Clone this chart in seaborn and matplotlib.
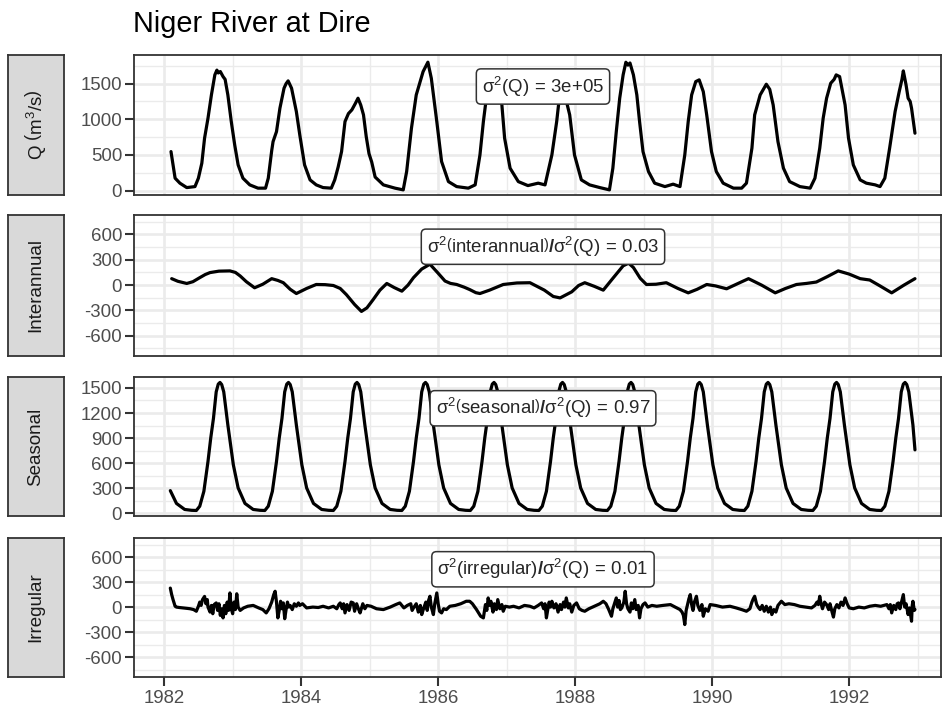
import numpy as np
import pandas as pd
import matplotlib
matplotlib.use("Agg")
import matplotlib.pyplot as plt
import matplotlib.transforms as mtransforms
import seaborn as sns

# ---------------- data ----------------
q_time = [1982.10, 1982.16, 1982.23, 1982.33, 1982.45, 1982.50, 1982.55, 1982.59, 1982.64, 1982.69,
          1982.74, 1982.77, 1982.79, 1982.82, 1982.86, 1982.89, 1982.93, 1982.98, 1983.03, 1983.08,
          1983.15, 1983.25, 1983.37, 1983.48, 1983.52, 1983.57, 1983.59, 1983.64, 1983.69, 1983.75,
          1983.78, 1983.81, 1983.86, 1983.93, 1983.98, 1984.05, 1984.13, 1984.22, 1984.32, 1984.44,
          1984.49, 1984.54, 1984.59, 1984.64, 1984.69, 1984.74, 1984.79, 1984.83, 1984.87, 1984.91,
          1984.95, 1984.99, 1985.03, 1985.08, 1985.20, 1985.37, 1985.49, 1985.54, 1985.61, 1985.68,
          1985.78, 1985.85, 1985.90, 1985.98, 1986.05, 1986.15, 1986.27, 1986.44, 1986.54, 1986.61,
          1986.66, 1986.71, 1986.77, 1986.82, 1986.88, 1986.93, 1986.97, 1987.05, 1987.17, 1987.31,
          1987.46, 1987.56, 1987.66, 1987.73, 1987.78, 1987.82, 1987.86, 1987.92, 1987.99, 1988.09,
          1988.21, 1988.36, 1988.50, 1988.55, 1988.60, 1988.65, 1988.70, 1988.74, 1988.77, 1988.80,
          1988.85, 1988.90, 1988.94, 1988.99, 1989.07, 1989.16, 1989.31, 1989.43, 1989.53, 1989.60,
          1989.65, 1989.70, 1989.76, 1989.81, 1989.87, 1989.92, 1989.99, 1990.06, 1990.16, 1990.31,
          1990.43, 1990.50, 1990.58, 1990.62, 1990.70, 1990.79, 1990.84, 1990.89, 1990.96, 1991.04,
          1991.13, 1991.28, 1991.43, 1991.50, 1991.57, 1991.62, 1991.67, 1991.73, 1991.78, 1991.81,
          1991.86, 1991.90, 1991.94, 1991.99, 1992.06, 1992.16, 1992.25, 1992.38, 1992.45, 1992.52,
          1992.59, 1992.67, 1992.73, 1992.77, 1992.79, 1992.81, 1992.83, 1992.86, 1992.89, 1992.91,
          1992.96]
q_value = [547, 174, 104, 42, 56, 174, 384, 735, 1015, 1342,
           1623, 1690, 1650, 1670, 1599, 1560, 1342, 968, 641, 360,
           174, 80, 34, 34, 174, 560, 687, 827, 1156, 1436,
           1500, 1539, 1436, 1108, 781, 360, 150, 80, 42, 34,
           150, 330, 547, 968, 1080, 1132, 1220, 1296, 1200, 1062,
           757, 520, 400, 190, 80, 34, 10, 267, 875, 1342,
           1669, 1801, 1576, 968, 407, 126, 56, 34, 80, 501,
           968, 1350, 1560, 1520, 1400, 1202, 735, 314, 126, 70,
           104, 80, 501, 968, 1400, 1480, 1300, 1062, 501, 150,
           80, 42, 10, 314, 827, 1296, 1623, 1800, 1760, 1790,
           1623, 1342, 968, 547, 267, 104, 56, 90, 56, 501,
           968, 1342, 1529, 1553, 1388, 1062, 547, 267, 104, 34,
           34, 104, 595, 1062, 1342, 1492, 1420, 1202, 687, 314,
           126, 56, 34, 174, 595, 1015, 1296, 1506, 1560, 1623,
           1599, 1400, 1202, 735, 360, 150, 104, 80, 56, 174,
           595, 1108, 1388, 1560, 1679, 1580, 1482, 1296, 1250, 1156,
           805]

inter_time = [1982.11, 1982.20, 1982.33, 1982.42, 1982.52, 1982.60, 1982.67, 1982.80, 1982.96, 1983.04,
              1983.11, 1983.20, 1983.32, 1983.44, 1983.57, 1983.66, 1983.74, 1983.84, 1983.93, 1984.08,
              1984.22, 1984.35, 1984.47, 1984.57, 1984.66, 1984.78, 1984.88, 1984.96, 1985.05, 1985.15,
              1985.25, 1985.36, 1985.47, 1985.56, 1985.64, 1985.76, 1985.88, 1986.00, 1986.10, 1986.18,
              1986.27, 1986.38, 1986.46, 1986.55, 1986.61, 1986.75, 1986.95, 1987.15, 1987.34, 1987.55,
              1987.68, 1987.78, 1987.95, 1988.05, 1988.14, 1988.28, 1988.41, 1988.55, 1988.70, 1988.78,
              1988.85, 1988.95, 1989.04, 1989.18, 1989.33, 1989.50, 1989.65, 1989.78, 1989.92, 1990.05,
              1990.21, 1990.38, 1990.53, 1990.72, 1990.92, 1991.07, 1991.23, 1991.38, 1991.52, 1991.68,
              1991.84, 1992.00, 1992.16, 1992.30, 1992.45, 1992.62, 1992.80, 1992.96]
inter_value = [76, 45, 19, 40, 88, 125, 148, 165, 168, 150,
               108, 40, -32, 10, 76, 55, 28, -50, -100, -40,
               7, 5, -5, -40, -113, -230, -312, -270, -173, -60,
               19, -30, -72, 0, 88, 190, 247, 140, 48, 20,
               7, -25, -53, -90, -100, -60, 7, 25, 28, -60,
               -135, -152, -80, -5, 28, -15, -60, 80, 228, 260,
               208, 80, 7, 10, 28, -40, -92, -50, 7, -10,
               -44, 20, 76, 0, -92, -40, 7, 20, 36, 100,
               168, 130, 76, 60, -10, -92, 0, 76]

seas_time = [1982.09, 1982.18, 1982.30, 1982.40, 1982.47, 1982.52, 1982.58, 1982.64, 1982.68, 1982.72, 1982.76, 1982.79, 1982.815, 1982.84, 1982.87, 1982.93,
             1983.01, 1983.08, 1983.18, 1983.30, 1983.40, 1983.47, 1983.52, 1983.58, 1983.64, 1983.68, 1983.72, 1983.76, 1983.79, 1983.815, 1983.84, 1983.87, 1983.93,
             1984.01, 1984.08, 1984.18, 1984.30, 1984.40, 1984.47, 1984.52, 1984.58, 1984.64, 1984.68, 1984.72, 1984.76, 1984.79, 1984.815, 1984.84, 1984.87, 1984.93,
             1985.01, 1985.08, 1985.18, 1985.30, 1985.40, 1985.47, 1985.52, 1985.58, 1985.64, 1985.68, 1985.72, 1985.76, 1985.79, 1985.815, 1985.84, 1985.87, 1985.93,
             1986.01, 1986.08, 1986.18, 1986.30, 1986.40, 1986.47, 1986.52, 1986.58, 1986.64, 1986.68, 1986.72, 1986.76, 1986.79, 1986.815, 1986.84, 1986.87, 1986.93,
             1987.01, 1987.08, 1987.18, 1987.30, 1987.40, 1987.47, 1987.52, 1987.58, 1987.64, 1987.68, 1987.72, 1987.76, 1987.79, 1987.815, 1987.84, 1987.87, 1987.93,
             1988.01, 1988.08, 1988.18, 1988.30, 1988.40, 1988.47, 1988.52, 1988.58, 1988.64, 1988.68, 1988.72, 1988.76, 1988.79, 1988.815, 1988.84, 1988.87, 1988.93,
             1989.01, 1989.08, 1989.18, 1989.30, 1989.40, 1989.47, 1989.52, 1989.58, 1989.64, 1989.68, 1989.72, 1989.76, 1989.79, 1989.815, 1989.84, 1989.87, 1989.93,
             1990.01, 1990.08, 1990.18, 1990.30, 1990.40, 1990.47, 1990.52, 1990.58, 1990.64, 1990.68, 1990.72, 1990.76, 1990.79, 1990.815, 1990.84, 1990.87, 1990.93,
             1991.01, 1991.08, 1991.18, 1991.30, 1991.40, 1991.47, 1991.52, 1991.58, 1991.64, 1991.68, 1991.72, 1991.76, 1991.79, 1991.815, 1991.84, 1991.87, 1991.93,
             1992.01, 1992.08, 1992.18, 1992.30, 1992.40, 1992.47, 1992.52, 1992.58, 1992.64, 1992.68, 1992.72, 1992.76, 1992.79, 1992.815, 1992.84, 1992.87, 1992.93, 1992.96]
seas_value = [273, 120, 48, 38, 36, 87, 265, 621, 900, 1137, 1453, 1545, 1565, 1540, 1453, 1057,
              582, 305, 120, 48, 38, 36, 87, 265, 621, 900, 1137, 1453, 1545, 1565, 1540, 1453, 1057,
              582, 305, 120, 48, 38, 36, 87, 265, 621, 900, 1137, 1453, 1545, 1565, 1540, 1453, 1057,
              582, 305, 120, 48, 38, 36, 87, 265, 621, 900, 1137, 1453, 1545, 1565, 1540, 1453, 1057,
              582, 305, 120, 48, 38, 36, 87, 265, 621, 900, 1137, 1453, 1545, 1565, 1540, 1453, 1057,
              582, 305, 120, 48, 38, 36, 87, 265, 621, 900, 1137, 1453, 1545, 1565, 1540, 1453, 1057,
              582, 305, 120, 48, 38, 36, 87, 265, 621, 900, 1137, 1453, 1545, 1565, 1540, 1453, 1057,
              582, 305, 120, 48, 38, 36, 87, 265, 621, 900, 1137, 1453, 1545, 1565, 1540, 1453, 1057,
              582, 305, 120, 48, 38, 36, 87, 265, 621, 900, 1137, 1453, 1545, 1565, 1540, 1453, 1057,
              582, 305, 120, 48, 38, 36, 87, 265, 621, 900, 1137, 1453, 1545, 1565, 1540, 1453, 1057,
              582, 305, 120, 48, 38, 36, 87, 265, 621, 900, 1137, 1453, 1545, 1565, 1540, 1453, 1057, 760]

irr_time = [1982.09, 1982.11, 1982.13, 1982.16, 1982.18, 1982.22, 1982.28, 1982.33, 1982.38, 1982.43,
            1982.47, 1982.50, 1982.52, 1982.54, 1982.56, 1982.59, 1982.61, 1982.63, 1982.64, 1982.67,
            1982.69, 1982.71, 1982.73, 1982.76, 1982.78, 1982.80, 1982.82, 1982.84, 1982.86, 1982.88,
            1982.90, 1982.92, 1982.94, 1982.96, 1982.98, 1983.00, 1983.02, 1983.04, 1983.06, 1983.08,
            1983.11, 1983.16, 1983.22, 1983.30, 1983.38, 1983.44, 1983.49, 1983.53, 1983.57, 1983.60,
            1983.62, 1983.64, 1983.66, 1983.68, 1983.70, 1983.72, 1983.74, 1983.76, 1983.78, 1983.80,
            1983.82, 1983.84, 1983.87, 1983.90, 1983.93, 1983.96, 1983.98, 1984.02, 1984.08, 1984.17,
            1984.25, 1984.32, 1984.40, 1984.47, 1984.52, 1984.55, 1984.57, 1984.60, 1984.62, 1984.64,
            1984.67, 1984.70, 1984.73, 1984.76, 1984.78, 1984.81, 1984.84, 1984.86, 1984.90, 1984.93,
            1984.96, 1985.02, 1985.10, 1985.20, 1985.30, 1985.38, 1985.44, 1985.50, 1985.55, 1985.60,
            1985.62, 1985.64, 1985.68, 1985.71, 1985.74, 1985.76, 1985.79, 1985.82, 1985.84, 1985.86,
            1985.88, 1985.90, 1985.93, 1985.95, 1985.98, 1986.00, 1986.02, 1986.05, 1986.08, 1986.12,
            1986.17, 1986.25, 1986.33, 1986.41, 1986.46, 1986.50, 1986.56, 1986.62, 1986.66, 1986.69,
            1986.71, 1986.73, 1986.75, 1986.77, 1986.80, 1986.82, 1986.85, 1986.87, 1986.90, 1986.93,
            1986.95, 1986.98, 1987.04, 1987.10, 1987.18, 1987.26, 1987.34, 1987.40, 1987.46, 1987.51,
            1987.54, 1987.56, 1987.58, 1987.60, 1987.62, 1987.64, 1987.66, 1987.69, 1987.72, 1987.75,
            1987.78, 1987.80, 1987.83, 1987.85, 1987.87, 1987.90, 1987.92, 1987.95, 1987.98, 1988.02,
            1988.06, 1988.10, 1988.14, 1988.20, 1988.28, 1988.36, 1988.41, 1988.45, 1988.49, 1988.53,
            1988.55, 1988.58, 1988.60, 1988.62, 1988.64, 1988.66, 1988.68, 1988.71, 1988.73, 1988.75,
            1988.77, 1988.80, 1988.82, 1988.84, 1988.87, 1988.89, 1988.92, 1988.94, 1988.96, 1988.99,
            1989.02, 1989.06, 1989.12, 1989.19, 1989.28, 1989.39, 1989.46, 1989.53, 1989.56, 1989.58,
            1989.60, 1989.62, 1989.64, 1989.66, 1989.68, 1989.70, 1989.72, 1989.74, 1989.77, 1989.79,
            1989.82, 1989.85, 1989.87, 1989.90, 1989.94, 1989.97, 1990.05, 1990.15, 1990.26, 1990.35,
            1990.43, 1990.50, 1990.55, 1990.58, 1990.60, 1990.62, 1990.65, 1990.68, 1990.70, 1990.73,
            1990.76, 1990.79, 1990.82, 1990.85, 1990.87, 1990.90, 1990.93, 1990.96, 1991.01, 1991.06,
            1991.12, 1991.20, 1991.28, 1991.36, 1991.45, 1991.50, 1991.53, 1991.55, 1991.57, 1991.59,
            1991.61, 1991.64, 1991.67, 1991.70, 1991.72, 1991.75, 1991.77, 1991.79, 1991.82, 1991.85,
            1991.88, 1991.91, 1991.94, 1991.97, 1992.00, 1992.06, 1992.14, 1992.22, 1992.30, 1992.38,
            1992.46, 1992.55, 1992.58, 1992.60, 1992.62, 1992.65, 1992.68, 1992.70, 1992.72, 1992.74,
            1992.77, 1992.79, 1992.81, 1992.83, 1992.86, 1992.88, 1992.91, 1992.92, 1992.93, 1992.95,
            1992.96]
irr_value = [228, 150, 90, 10, 0, -5, -10, -15, -20, -30,
             -50, 10, 60, 20, 90, 128, 40, 90, 0, -60,
             20, -80, 30, 50, -40, 40, -100, -20, -130, 20,
             -80, 60, -40, 170, -20, -80, 60, -30, 160, 0,
             -40, -10, 10, 20, -10, -30, -70, -20, 60, 150,
             190, 60, -130, -40, 70, -20, 50, -140, -30, 60,
             0, 20, -30, 40, 10, 50, 20, 40, -10, 0,
             -5, 10, -10, 10, -20, 30, 50, -20, 40, -70,
             30, -40, 60, 50, -50, 40, -30, -70, 40, -20,
             20, 10, -20, -30, 0, 30, 50, -10, 20, 40,
             -40, -10, 40, -60, 20, -90, -10, 60, -40, 80,
             130, 0, -90, 40, 170, 40, -50, -70, -20, -30,
             10, 20, 40, 70, 70, 40, -30, -110, -130, 30,
             -40, 110, 20, 70, -60, 40, -30, 90, -20, 30,
             -50, 10, 0, 10, -10, 20, 10, -10, 20, 50,
             -20, 40, -130, -30, 60, 0, 70, -10, 40, -60,
             30, -30, 60, 0, 110, -10, 40, -60, 20, 50,
             -20, -40, -50, -20, 10, 40, 70, 40, -30, -110,
             -20, 60, 110, 0, 80, -30, -10, 60, 190, 40,
             -20, -60, 50, -20, 90, -30, 20, -130, -20, 30,
             50, 0, 20, 10, 20, 30, 0, -30, -60, -100,
             -210, -40, 30, 100, 150, 30, -40, 60, 130, 20,
             -40, 30, -110, -20, -50, 30, 20, 0, 10, -10,
             -30, -50, -20, 60, 100, 130, 30, -10, -30, 20,
             -50, 10, -60, 0, -90, -30, -60, 20, 70, 30,
             40, 30, 10, 0, -10, 20, 60, 30, 130, 40,
             -20, 60, 30, -30, 40, -60, -120, -20, 30, -10,
             60, 20, 110, 40, -10, -20, 0, -10, 10, 20,
             10, 30, -20, 30, -70, 20, -30, 40, 50, -20,
             80, 150, 0, 40, -90, -10, -170, 20, 70, -40,
             -30]

panel_names = [r"$\mathrm{Q}\ \left(\mathrm{m}^{3}/\mathrm{s}\right)$", "Interannual", "Seasonal", "Irregular"]
panel_notes = [r"$\mathrm{\sigma}^{2}\left(\mathrm{Q}\right)\,=\,\mathrm{3e{+}05}$",
               r"$\mathrm{\sigma}^{2}\left(\mathrm{interannual}\right)\mathbf{/}\mathrm{\sigma}^{2}\left(\mathrm{Q}\right)\,=\,\mathrm{0.03}$",
               r"$\mathrm{\sigma}^{2}\left(\mathrm{seasonal}\right)\mathbf{/}\mathrm{\sigma}^{2}\left(\mathrm{Q}\right)\,=\,\mathrm{0.97}$",
               r"$\mathrm{\sigma}^{2}\left(\mathrm{irregular}\right)\mathbf{/}\mathrm{\sigma}^{2}\left(\mathrm{Q}\right)\,=\,\mathrm{0.01}$"]
y_ticks = [[0, 500, 1000, 1500], [-600, -300, 0, 300, 600], [0, 300, 600, 900, 1200, 1500], [-600, -300, 0, 300, 600]]
y_minor = [[250, 750, 1250, 1750], [-750, -450, -150, 150, 450, 750], [150, 450, 750, 1050, 1350], [-750, -450, -150, 150, 450, 750]]
y_lims = [(-62, 1902), (-840, 830), (-30, 1630), (-840, 830)]
x_ticks = [1982, 1984, 1986, 1988, 1990, 1992]
x_minor = [1983, 1985, 1987, 1989, 1991, 1993]
title = "Niger River at Dire"

# ---------------- styling ----------------
sns.set_theme(style="white")
plt.rcParams["font.family"] = ["Liberation Sans", "DejaVu Sans"]
plt.rcParams["axes.unicode_minus"] = False
plt.rcParams["mathtext.fontset"] = "custom"
plt.rcParams["mathtext.rm"] = "Liberation Sans"
plt.rcParams["mathtext.it"] = "Liberation Sans:italic"
plt.rcParams["mathtext.bf"] = "Liberation Sans:bold"
plt.rcParams["mathtext.sf"] = "Liberation Sans"

W, H = 942, 713
fig = plt.figure(figsize=(W / 100, H / 100), dpi=100)
fig.patch.set_facecolor("white")

series = [(q_time, q_value), (inter_time, inter_value), (seas_time, seas_value), (irr_time, irr_value)]
panel_px = [(55, 195), (215, 356), (377, 516), (538, 677)]
x_mid = (q_time[0] + q_time[-1]) / 2.0

for i, ((t, v), (top, bot)) in enumerate(zip(series, panel_px)):
    ax = fig.add_axes([134 / W, 1 - bot / H, 807 / W, (bot - top) / H])
    df = pd.DataFrame({"t": t, "v": v})
    sns.lineplot(data=df, x="t", y="v", ax=ax, color="black", linewidth=2.3,
                 estimator=None, sort=False)
    ax.set_xlim(1981.56, 1993.34)
    ax.set_ylim(*y_lims[i])
    ax.set_xticks(x_ticks)
    ax.set_xticks(x_minor, minor=True)
    ax.set_yticks(y_ticks[i])
    ax.set_yticks(y_minor[i], minor=True)
    ax.set_xlabel("")
    ax.set_ylabel("")
    ax.set_facecolor("white")
    ax.grid(which="major", color="#EBEBEB", linewidth=1.9)
    ax.grid(which="minor", color="#EBEBEB", linewidth=1.0)
    ax.set_axisbelow(True)
    for s in ax.spines.values():
        s.set_color("#333333")
        s.set_linewidth(1.3)
    ax.tick_params(axis="both", which="major", direction="out", length=6.5, width=1.5,
                   color="#333333", labelcolor="#4D4D4D", labelsize=13.4, pad=2)
    ax.tick_params(axis="both", which="minor", length=0)
    ax.tick_params(axis="y", left=True)
    if i < 3:
        ax.tick_params(axis="x", which="both", bottom=False, labelbottom=False)
    else:
        ax.tick_params(axis="x", bottom=True, labelbottom=True, pad=3)
    trans = mtransforms.blended_transform_factory(ax.transData, ax.transAxes)
    ax.text(x_mid, 0.775, panel_notes[i], transform=trans, ha="center", va="center",
            fontsize=13.4, color="#262626", zorder=5,
            bbox=dict(boxstyle="round,pad=0.3,rounding_size=0.25", fc="white",
                      ec="#333333", lw=1.1))

    sax = fig.add_axes([8 / W, 1 - bot / H, 56 / W, (bot - top) / H])
    sax.set_facecolor("#D9D9D9")
    sax.set_xticks([])
    sax.set_yticks([])
    for s in sax.spines.values():
        s.set_color("#333333")
        s.set_linewidth(1.3)
    sax.text(0.5, 0.5, panel_names[i], rotation=90, ha="center", va="center",
             fontsize=13.5, color="#1A1A1A", transform=sax.transAxes)

fig.text(133 / W, 1 - 32 / H, title, ha="left", va="baseline", fontsize=20.8, color="black")

fig.savefig("out.png", dpi=100, facecolor="white")
